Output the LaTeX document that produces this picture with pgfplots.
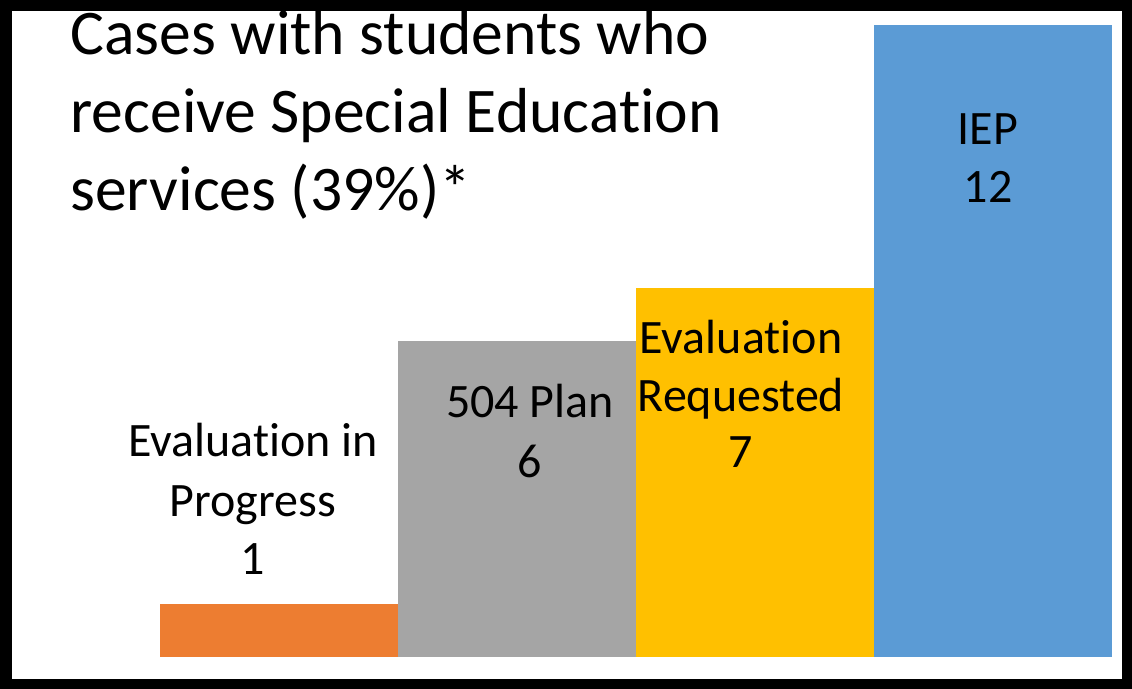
\documentclass[border=0pt]{standalone}
\usepackage{pgfplots}
\pgfplotsset{compat=1.18}
\usepackage{fontspec}
\setmainfont{Carlito}[Ligatures=NoCommon]
\definecolor{cOrange}{HTML}{ED7D31}
\definecolor{cGray}{HTML}{A5A5A5}
\definecolor{cYellow}{HTML}{FFC000}
\definecolor{cBlue}{HTML}{5B9BD5}
\begin{document}
\begin{tikzpicture}[x=0.5pt,y=0.5pt]
% frame (pixel coordinates, origin bottom-left)
\fill[black] (0,0) rectangle (1132,689);
\fill[white] (12,10) rectangle (1122,678);
\begin{axis}[
  at={(80pt,16pt)}, anchor=south west,
  scale only axis, width=476pt, height=316pt,
  xmin=-0.5, xmax=3.5, ymin=0, ymax=12,
  hide axis, clip=false,
  ybar, bar width=1, bar shift=0pt,
]
\addplot[draw=none, fill=cOrange] coordinates {(0,1)};
\addplot[draw=none, fill=cGray] coordinates {(1,6)};
\addplot[draw=none, fill=cYellow] coordinates {(2,7)};
\addplot[draw=none, fill=cBlue] coordinates {(3,12)};
\end{axis}
% title
\begin{scope}[every node/.style={anchor=base west, inner sep=0pt, font=\fontsize{31.8pt}{38pt}\selectfont}]
\node at (70,689-55) {Cases with students who};
\node at (70,689-133) {receive Special Education};
\node at (70,689-211) {services (39\%)*};
\end{scope}
% value labels
\begin{scope}[every node/.style={anchor=base, inner sep=0pt, font=\fontsize{24pt}{28pt}\selectfont}]
\node at (253,689-457) {Evaluation in};
\node at (253,689-517) {Progress};
\node at (253,689-575) {1};
\node at (530,689-418) {504 Plan};
\node at (530,689-478) {6};
\node at (741,689-354) {Evaluation};
\node at (741,689-412) {Requested};
\node at (741,689-468) {7};
\node at (988,689-145) {IEP};
\node at (988,689-203) {12};
\end{scope}
\end{tikzpicture}
\end{document}
